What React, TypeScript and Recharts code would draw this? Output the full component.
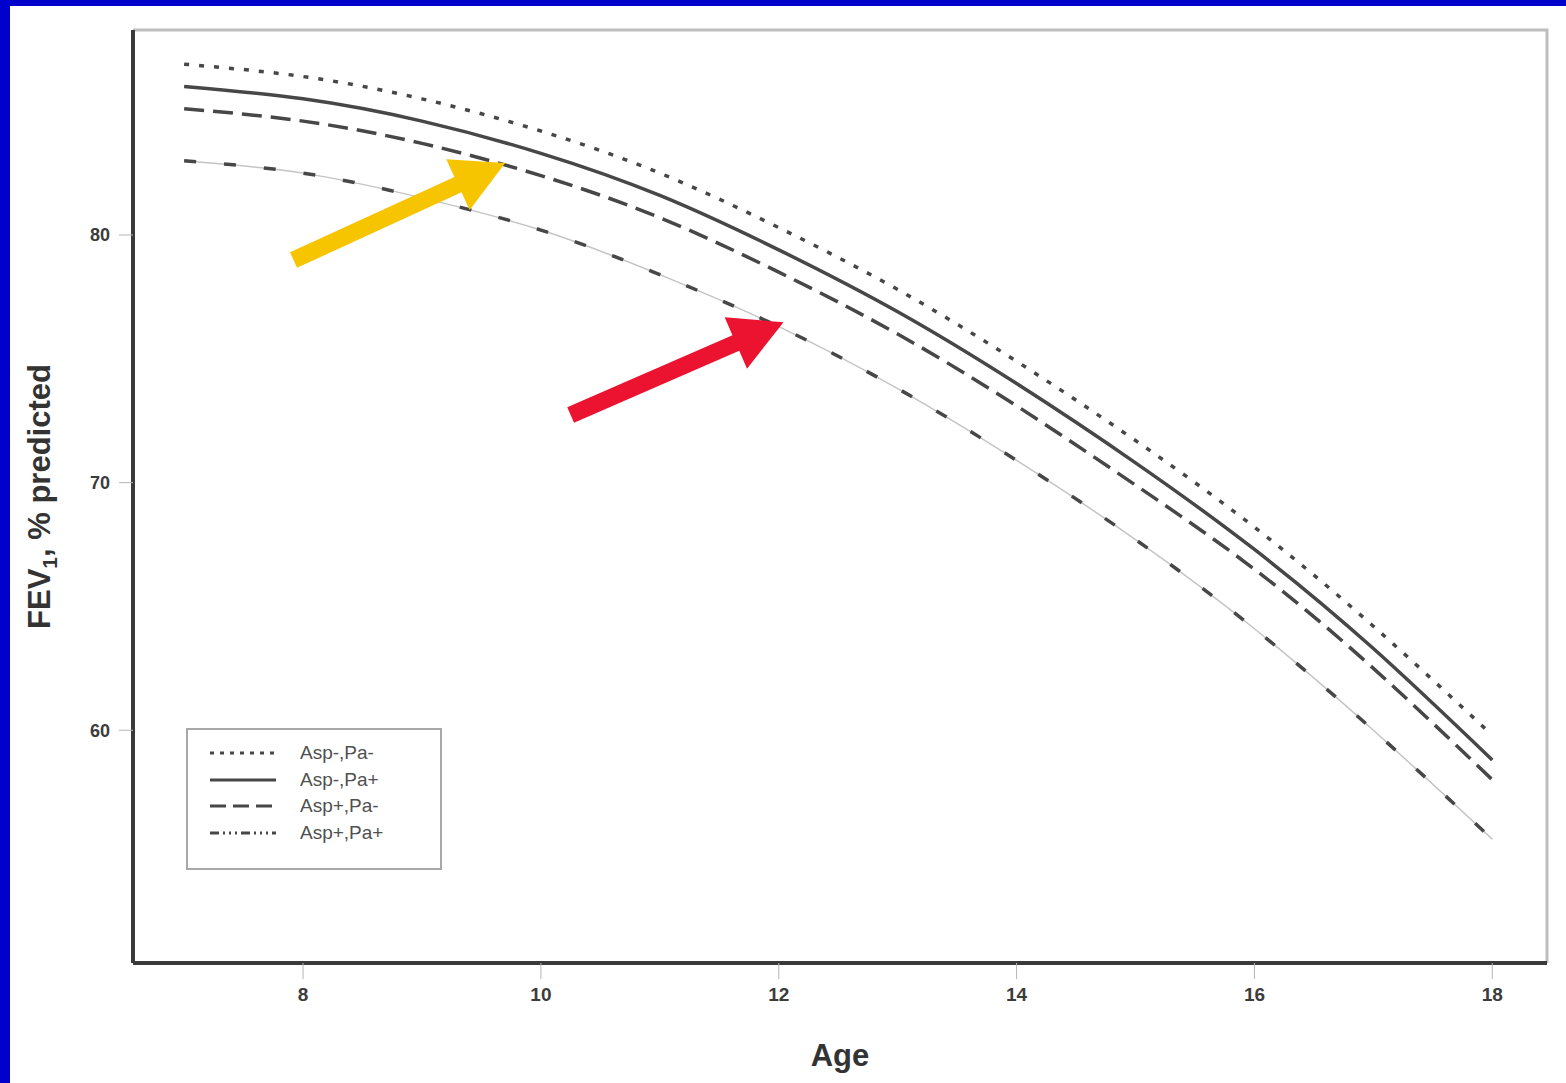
import React from "react";
import {
  Line,
  LineChart,
  ReferenceArea,
  ReferenceLine,
  XAxis,
  YAxis,
  Label,
} from "recharts";

const AGES = [7, 8, 9, 10, 11, 12, 13, 14, 15, 16, 17, 18];
const ASP_NEG_PA_NEG = [86.9, 86.4, 85.5, 84.2, 82.5, 80.3, 77.8, 74.9, 71.7, 68.2, 64.2, 59.8];
const ASP_NEG_PA_POS = [86.0, 85.5, 84.6, 83.3, 81.6, 79.4, 76.9, 74.0, 70.8, 67.3, 63.3, 58.8];
const ASP_POS_PA_NEG = [85.1, 84.6, 83.7, 82.4, 80.7, 78.5, 76.0, 73.1, 69.9, 66.5, 62.5, 58.0];
const ASP_POS_PA_POS = [83.0, 82.5, 81.5, 80.2, 78.4, 76.3, 73.8, 70.9, 67.7, 64.1, 60.0, 55.6];

const X_TICKS = [8, 10, 12, 14, 16, 18];
const Y_TICKS = [60, 70, 80];
const X_DOMAIN: [number, number] = [6.57, 18.46];
const Y_DOMAIN: [number, number] = [50.6, 88.28];

// annotation arrows, in data units: [tail, tip]
const YELLOW_ARROW = [
  { x: 7.92, y: 78.99 },
  { x: 9.7, y: 82.91 },
];
const RED_ARROW = [
  { x: 10.25, y: 72.73 },
  { x: 12.04, y: 76.48 },
];

const FONT = '"Liberation Sans", Arial, sans-serif';
const INK = "#474747";

const data = AGES.map((age, i) => ({
  age,
  nn: ASP_NEG_PA_NEG[i],
  np: ASP_NEG_PA_POS[i],
  pn: ASP_POS_PA_NEG[i],
  pp: ASP_POS_PA_POS[i],
}));

const legendRows = [
  { name: "Asp-,Pa-", dash: "4 6", width: 3 },
  { name: "Asp-,Pa+", dash: undefined, width: 3 },
  { name: "Asp+,Pa-", dash: "16 7", width: 3 },
  { name: "Asp+,Pa+", dash: "9 4 2 4 2 4 2 4", width: 3 },
];

function arrow(color: string) {
  return (p: any) => {
    const { x1, y1, x2, y2 } = p;
    const dx = x2 - x1;
    const dy = y2 - y1;
    const len = Math.hypot(dx, dy);
    const ux = dx / len;
    const uy = dy / len;
    const nx = -uy;
    const ny = ux;
    const head = 52;
    const headW = 28;
    const shaft = 8.5;
    const bx = x2 - ux * head;
    const by = y2 - uy * head;
    const pts = [
      [x1 + nx * shaft, y1 + ny * shaft],
      [bx + nx * shaft, by + ny * shaft],
      [bx + nx * headW, by + ny * headW],
      [x2, y2],
      [bx - nx * headW, by - ny * headW],
      [bx - nx * shaft, by - ny * shaft],
      [x1 - nx * shaft, y1 - ny * shaft],
    ]
      .map((q) => q.join(","))
      .join(" ");
    return <polygon points={pts} fill={color} stroke="none" />;
  };
}

function Legende() {
  return (
    <div
      style={{
        position: "absolute",
        left: 176,
        top: 722,
        width: 252,
        height: 128,
        border: "2px solid #a8a8a8",
        background: "#fff",
        fontFamily: FONT,
        paddingTop: 10,
        boxSizing: "content-box",
      }}
    >
      {legendRows.map((r) => (
        <div
          key={r.name}
          style={{ display: "flex", alignItems: "center", height: 26.5 }}
        >
          <svg width={90} height={8} style={{ marginLeft: 22 }}>
            <line
              x1={0}
              y1={4}
              x2={66}
              y2={4}
              stroke={INK}
              strokeWidth={r.width}
              strokeDasharray={r.dash}
            />
          </svg>
          <span style={{ fontSize: 19, color: "#505050" }}>{r.name}</span>
        </div>
      ))}
    </div>
  );
}

export default function App() {
  return (
    <div
      style={{
        position: "absolute",
        left: 0,
        top: 0,
        width: 1566,
        height: 1083,
        background: "#0000cc",
      }}
    >
      <div
        style={{
          position: "absolute",
          left: 10,
          top: 6,
          width: 1556,
          height: 1077,
          background: "#fff",
        }}
      >
        <LineChart
          width={1556}
          height={1077}
          data={data}
          margin={{ top: 24, right: 19, left: 20, bottom: 0 }}
          style={{ fontFamily: FONT }}
        >
          <ReferenceArea
            x1={X_DOMAIN[0]}
            x2={X_DOMAIN[1]}
            y1={Y_DOMAIN[0]}
            y2={Y_DOMAIN[1]}
            ifOverflow="visible"
            shape={(p: any) => (
              <path
                d={`M${p.x},${p.y} H${p.x + p.width} V${p.y + p.height}`}
                fill="none"
                stroke="#bdbdbd"
                strokeWidth={3}
              />
            )}
          />
          <XAxis
            dataKey="age"
            type="number"
            domain={X_DOMAIN}
            ticks={X_TICKS}
            allowDataOverflow
            height={120}
            axisLine={{ stroke: "#3a3a3a", strokeWidth: 4 }}
            tickLine={{ stroke: "#b5b5b5", strokeWidth: 1 }}
            tickSize={16}
            tickMargin={9}
            tick={{ fill: "#3c3c3c", fontSize: 19, fontWeight: "bold", fontFamily: FONT }}
          >
            <Label
              content={({ viewBox }: any) => (
                <text
                  x={viewBox.x + viewBox.width / 2}
                  y={viewBox.y + 103}
                  textAnchor="middle"
                  fontSize={31}
                  fontWeight="bold"
                  fill="#333"
                  fontFamily={FONT}
                >
                  Age
                </text>
              )}
            />
          </XAxis>
          <YAxis
            type="number"
            domain={Y_DOMAIN}
            ticks={Y_TICKS}
            allowDataOverflow
            width={103}
            axisLine={{ stroke: "#3a3a3a", strokeWidth: 4 }}
            tickLine={{ stroke: "#b5b5b5", strokeWidth: 1 }}
            tickSize={14}
            tickMargin={9}
            tick={{ fill: "#3c3c3c", fontSize: 18, fontWeight: "bold", fontFamily: FONT }}
          >
            <Label
              content={({ viewBox }: any) => {
                const cx = 40;
                const cy = viewBox.y + viewBox.height / 2;
                return (
                  <text
                    x={cx}
                    y={cy}
                    transform={`rotate(-90, ${cx}, ${cy})`}
                    textAnchor="middle"
                    fontSize={31}
                    fontWeight="bold"
                    fill="#333"
                    fontFamily={FONT}
                  >
                    <tspan>FEV</tspan>
                    <tspan fontSize={21} dy={7}>1</tspan>
                    <tspan dy={-7}>, % predicted</tspan>
                  </text>
                );
              }}
            />
          </YAxis>

          <Line
            type="natural"
            dataKey="nn"
            stroke={INK}
            strokeWidth={3.5}
            strokeDasharray="5 10"
            dot={false}
            isAnimationActive={false}
          />
          <Line
            type="natural"
            dataKey="np"
            stroke={INK}
            strokeWidth={3.5}
            dot={false}
            isAnimationActive={false}
          />
          <Line
            type="natural"
            dataKey="pn"
            stroke={INK}
            strokeWidth={3.5}
            strokeDasharray="20 9"
            dot={false}
            isAnimationActive={false}
          />
          <Line
            type="natural"
            dataKey="pp"
            stroke="#c4c4c4"
            strokeWidth={1.5}
            dot={false}
            isAnimationActive={false}
          />
          <Line
            type="natural"
            dataKey="pp"
            stroke={INK}
            strokeWidth={3.5}
            strokeDasharray="12 28"
            dot={false}
            isAnimationActive={false}
          />

          <ReferenceLine
            segment={YELLOW_ARROW}
            ifOverflow="visible"
            shape={arrow("#f6c500")}
          />
          <ReferenceLine
            segment={RED_ARROW}
            ifOverflow="visible"
            shape={arrow("#ec1330")}
          />
        </LineChart>
        <Legende />
      </div>
    </div>
  );
}
